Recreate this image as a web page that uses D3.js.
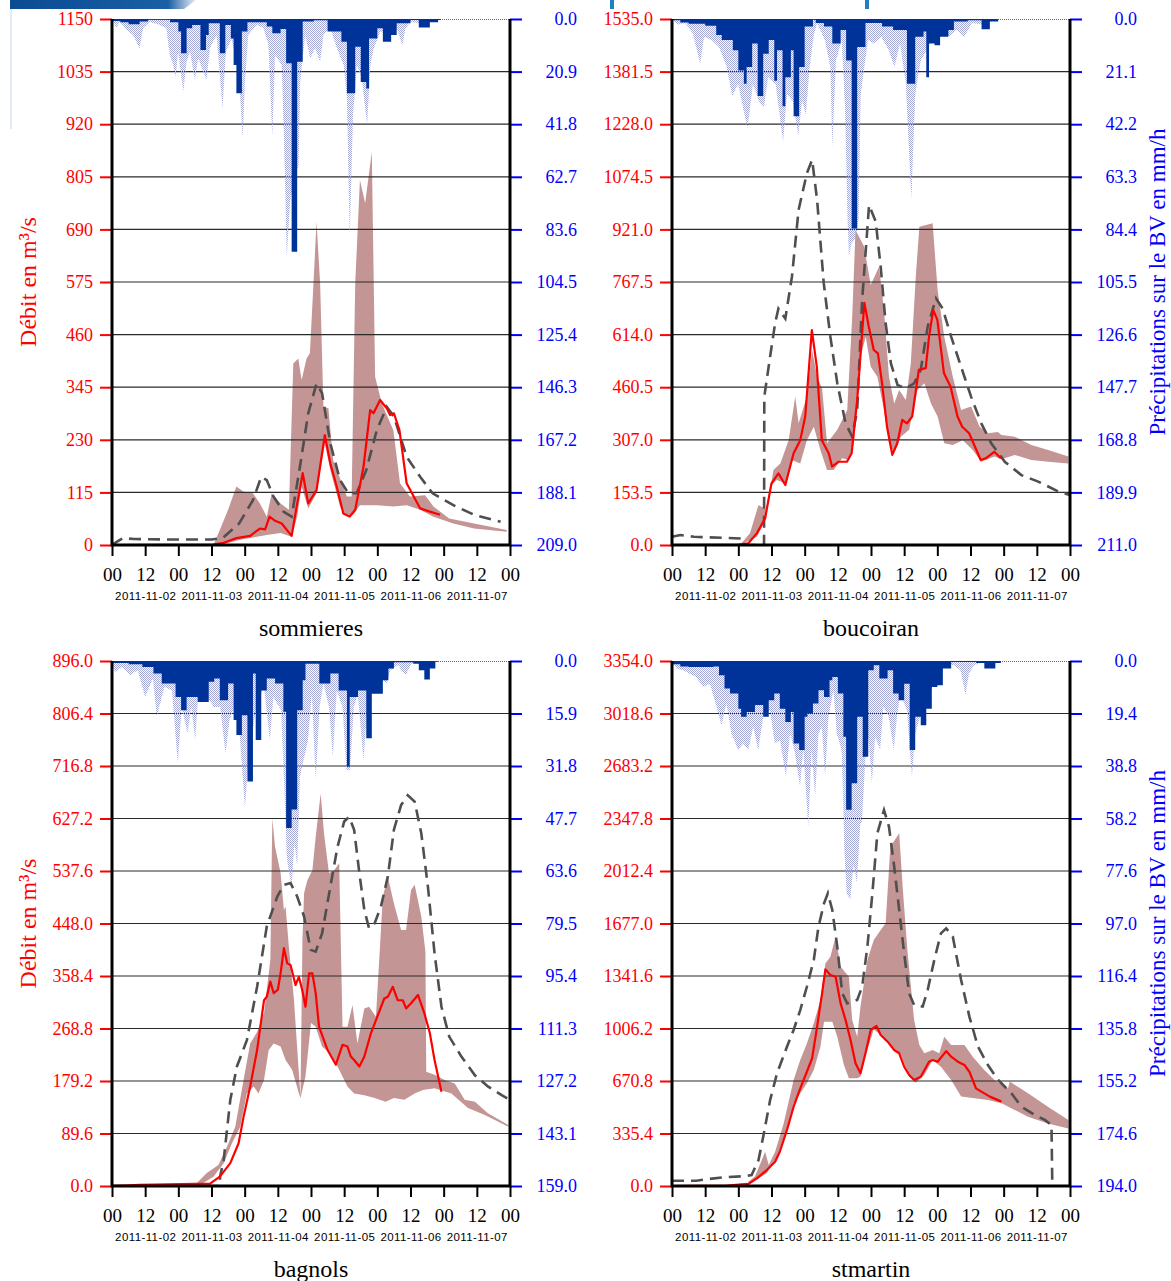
<!DOCTYPE html>
<html>
<head>
<meta charset="utf-8">
<script src="https://cdn.jsdelivr.net/npm/d3@7"></script>
<style>
body { margin: 0; background: #fff; }
svg text { font-family: "Liberation Serif", "Times New Roman", serif; }
svg .dates text { font-family: "Liberation Sans", Arial, sans-serif; }
</style>
</head>
<body>
<script>
// hours since 2011-11-02 00:00 UTC, values in m3/s or mm/h
const stationNames = ["sommieres", "boucoiran", "bagnols", "stmartin"];
const qMax = [1150, 1535, 896, 3354];
const pMax = [209, 211, 159, 194];

// ---- sommieres
const sommieresRain = [[0,0.8],[3,1.3],[6,2.1],[10,1],[13,0.3],[21,1.3],[24,5],[25,13.6],[27,3.7],[29,2.4],[32,12.3],[34,6.4],[35,1.7],[39,13.6],[41,2.4],[43,7.7],[44,18.3],[45,29.5],[47,5],[49,1.3],[56,3],[58,5.7],[61,4],[63,17.6],[65,92.5],[67,17],[69,1],[73,0.5],[78,5],[83,9],[85,29.5],[88,11],[90,25],[92,27.6],[93,7.7],[96,3.7],[98,9],[101,6.4],[103,1.7],[108,0.4],[111,3.4],[115,1.3],[118,0.4],[119,0]];
const sommieresRainMax = [[0,0],[1.6,3.7],[2.8,1.1],[5.2,4.4],[7.6,6.4],[10,11.7],[11.2,3.7],[13.7,1.1],[17.3,2.4],[19.7,3.7],[20.9,14.3],[22.1,18.3],[23.1,22.9],[23.9,13],[25.8,28.9],[27,17],[28.2,13],[30,24.2],[31.2,15.6],[33,20.9],[34.2,24.2],[35.4,11.7],[37.8,6.4],[40,35.5],[41.2,13],[43.3,7.7],[45.1,18.3],[46.3,29.5],[47.3,47.4],[48.1,24.9],[49.3,6.4],[52.4,2.4],[54.8,3.7],[56.6,10.3],[58,46.8],[59,14.3],[61.4,18.3],[62.6,62],[63.2,95],[64.5,71.3],[67.5,58],[68.1,24.9],[69.9,6.4],[71.7,15.6],[73.5,11.7],[75.3,17],[76.5,6.4],[79,3.7],[81.4,11.7],[83.8,18.3],[85,31.5],[86,86.5],[87.2,38.2],[88.6,18.3],[90.4,23.6],[92.3,42.1],[93.5,18.3],[94.7,11.7],[97.1,5],[100.7,6.4],[103.1,3.7],[105,10.3],[106.2,3.7],[108,1.1],[111.6,1.7],[116.4,0.8],[118.9,0]];
const sommieresHigh = [[36.7,0],[39,33],[42,77],[45,128],[47.5,117],[51,113],[53.5,91],[56,62],[57.8,113],[61,91],[64,77],[65.6,397],[67.4,408],[68.6,361],[70.4,408],[71.6,419],[72.9,572],[74,707],[75.3,572],[76.5,302],[78.3,299],[80,186],[85,106],[86.7,106],[88,572],[89.7,798],[91.6,747],[94,860],[95.2,368],[97.6,310],[101.8,251],[104.2,135],[107.8,106],[113.3,109],[116.3,84],[122,58],[131,47],[142.8,33]];
const sommieresLow = [[36.7,0],[41.5,4],[46,11],[52.4,18],[56,22],[61,26],[65,18],[67,62],[68.6,128],[71,80],[74,113],[77,222],[79,164],[82.5,84],[85,62],[87.3,66],[89.7,87],[95.8,87],[101.8,84],[106.6,87],[111.5,77],[116.3,62],[123.5,47],[131,36],[142.8,29]];
const sommieresObs = [[0,0],[36.7,1],[40,4],[45,15],[50,20],[53.5,36],[55.4,34],[57,62],[59,53],[61.4,47],[65,20],[66.8,84],[69,157],[71,91],[74,120],[77,240],[79,178],[81.3,128],[83.7,69],[86,62],[88,77],[91,171],[93.4,295],[94.6,288],[97,317],[99.4,299],[100.6,284],[102,288],[104,251],[106.6,135],[111.5,80],[115,73],[118.7,66]];
const sommieresSim = [[0,0],[2,8],[4,15],[8,13],[20,12],[36,12],[40,15],[46,47],[51,98],[54,149],[56,142],[58.4,106],[62,73],[65,62],[68,171],[71,288],[74,353],[76,332],[79,222],[82.5,142],[85.5,113],[88.5,113],[92,164],[95.8,251],[99.4,302],[102,281],[106.6,193],[111.5,149],[116,113],[123.5,87],[131,66],[140.6,51]];

// ---- boucoiran
const boucoiranRain = [[0,0.5],[3,1.4],[6,1.9],[12,2.7],[16,6.4],[18,8.4],[22,12.5],[24,20.7],[26,26],[27,19.3],[29,9.8],[31,30.9],[33,13.9],[35,8.4],[37,24.8],[38,12.5],[40,35],[41,23.4],[43,12.5],[44,39],[46,19.3],[48,3],[51,0.3],[52,1.6],[55,3],[58,9.8],[61,4.4],[63,16.6],[65,84],[67,11.2],[70,1.6],[76,3],[80,4.4],[85,26],[88,7.1],[91,5],[92,23.4],[93,9.8],[95,10.5],[97,7.1],[100,4.4],[102,1],[107,0.5],[112,4.1],[115,1],[118,0]];
const boucoiranRainMax = [[0,0],[2,2.3],[4.8,1.6],[7.5,5.7],[10.2,18],[11.6,7.1],[14.3,8.4],[17,11.2],[19.8,19.3],[21.8,30.9],[23.9,26.1],[27.3,43.8],[29.3,26.1],[31.4,32.9],[33.2,35.6],[34.8,23.4],[37.5,26.1],[40.2,49.2],[41.6,30.2],[43.7,32.9],[45.7,46.5],[47.1,32.9],[48.4,38.4],[49.8,19.3],[51.2,7.1],[52.5,1.6],[55.3,8.4],[57.3,19.3],[58,51.3],[59.3,16.6],[61.4,8.4],[62.6,35],[63.5,80],[64,95],[65,90],[66.5,88],[67.5,80],[68.3,30],[70.9,8.4],[73,9.8],[75.7,7.1],[78.4,12.5],[80.5,19.3],[82.5,9.8],[84.6,26.1],[86.6,72.4],[88,30.2],[90,16.6],[92.1,12.5],[94.8,5.7],[97.5,3],[100.3,7.1],[103,4.4],[105.7,7.1],[108.5,1.6],[112.6,2.3],[116.6,0.5],[118,0]];
const boucoiranHigh = [[24.6,0],[28.2,34],[31.3,117],[34.3,102],[36.7,219],[39.2,238],[42.2,306],[44.6,433],[45.8,355],[48.8,433],[50.7,569],[52.5,491],[54.3,457],[56.1,297],[59.8,336],[63.4,394],[65.2,666],[66.4,919],[69.5,871],[71.9,759],[74.9,812],[76.7,686],[78.5,491],[80.4,413],[82.2,452],[84.6,423],[86.4,530],[88.2,783],[89.5,929],[94.3,939],[96.1,744],[98.5,608],[101.6,491],[104.6,394],[108.2,404],[111.3,345],[114.3,326],[117.9,330],[119.2,321],[124,316],[130,292],[136.1,277],[143.4,258]];
const boucoiranLow = [[24.6,0],[30.7,24],[33.1,63],[35.5,170],[37.9,190],[41,180],[43.4,248],[46.4,238],[48.8,306],[51.3,345],[53.7,277],[56.1,219],[58.5,219],[61.6,253],[64,248],[65.8,297],[67.6,530],[70.1,608],[71.9,520],[74.3,491],[76.7,394],[78.5,297],[80.4,268],[82.8,316],[85.8,336],[88.8,452],[91.3,472],[93.7,413],[96.1,375],[98.5,297],[101.6,292],[105.2,306],[108.8,277],[111.9,243],[116.7,258],[119.2,250],[124,263],[130,248],[136.1,243],[143.4,238]];
const boucoiranObs = [[0,0],[24,1],[27.6,5],[30.7,34],[33.7,78],[36,180],[38.5,209],[41,175],[44,268],[46.4,306],[48.2,375],[50.6,627],[52.4,520],[54.2,306],[56.7,268],[57.9,229],[60.3,243],[63.3,243],[65,268],[67,423],[69.6,707],[71.2,637],[73,569],[74.5,559],[76,472],[77.8,345],[79.7,263],[81.5,297],[83.3,365],[85,355],[86.9,375],[89.3,511],[91.8,516],[93,608],[94.5,686],[96,657],[98.4,501],[100.8,462],[103.3,375],[105,345],[107.5,326],[111.7,248],[113.5,253],[116.6,272],[119,253]];
const boucoiranSim = [[0,24],[3,29],[8,24],[25,19],[26,0],[33.3,0],[33.4,433],[35.5,550],[37.3,647],[38.5,690],[41,661],[43.4,783],[45.8,978],[48.8,1085],[50.7,1124],[52.5,1007],[54.9,764],[57.3,608],[59.8,472],[62.8,355],[65.2,316],[67,394],[68.8,715],[71.3,992],[73.7,944],[75.5,812],[77.3,647],[79.2,530],[81.6,467],[84.6,457],[87.6,472],[90,511],[92.5,637],[95.5,720],[97.9,690],[101,608],[104.6,520],[108.2,433],[111.9,355],[115.5,297],[120.4,243],[126.4,204],[132.5,185],[139.8,156],[144,146]];

// ---- bagnols
const bagnolsRain = [[0,0.6],[6,1],[11,1.8],[15,3.8],[18,6.8],[23,10.9],[25,14.9],[27,10.9],[31,12.4],[35,6.3],[37,5.3],[39,11.9],[42,6.8],[44,17.9],[45,22.4],[47,16.4],[49,36.5],[51,3.8],[52,23.9],[54,8.9],[56,5.3],[59,6.8],[62,15.4],[63,50.6],[65,45],[67,14.9],[69,5.8],[70,0.8],[75,6.8],[79,3.8],[82,8.9],[85,32],[86,10.9],[89,8.9],[92,23.4],[94,9.9],[98,5.8],[100,2.3],[102,0.4],[109,0.8],[111,2.8],[113,5.6],[115,2.3],[117,0.2],[118,0]];
const bagnolsRainMax = [[0,0],[1,3.3],[3.7,1.8],[6.5,4.3],[9.3,2.8],[12,10.9],[14.8,5.3],[16.2,16.7],[19,7.8],[21.7,8.9],[23.8,31],[25.2,13.9],[27.3,21.9],[28.7,13.9],[30.1,23.9],[31.4,7.8],[34.2,10.9],[37,13.9],[39.1,13.9],[41.1,28],[42.5,17.9],[45.3,11.9],[48.1,44.6],[49.4,29],[52.2,13.9],[55,7.8],[57.1,23.9],[58.4,10.9],[61.2,14.9],[62.6,44],[63.2,59],[64,64],[65,68],[66,55],[67,62],[68,35],[70.9,23.9],[72.3,9.9],[73.7,36],[75.1,13.9],[76.5,6.8],[78.5,13.9],[79.9,29],[81.3,8.9],[83.4,13.9],[84.8,33],[86.1,33],[87.5,13.9],[88.9,9.9],[91,30],[92.4,13.9],[94.5,6.8],[96.5,4.8],[99.3,6.8],[100.7,2.8],[103.5,1.3],[106.2,4.3],[108.3,0.8],[111.8,0.2],[113,0]];
const bagnolsHigh = [[19.8,0],[30.7,5],[34.3,22],[38.5,36],[41.6,67],[44.6,101],[47.6,181],[50,243],[52.5,263],[55,295],[57.3,386],[58,627],[59,579],[61,534],[62.2,471],[62.8,477],[64,408],[65.8,320],[67.5,200],[68.2,152],[68.9,420],[69.5,500],[70.7,522],[72.5,539],[73.7,596],[75.5,670],[76.7,602],[78.5,534],[80.4,539],[82.2,551],[83.4,272],[85.2,272],[87,309],[88.8,243],[91.3,303],[93,306],[95.5,289],[98,494],[99.8,528],[102,482],[104.6,437],[106.4,437],[108.2,505],[109.5,514],[111.9,460],[113.4,400],[113.7,195],[116.7,190],[120.4,181],[124,175],[127.6,147],[131.3,144],[136,124],[143.4,104]];
const bagnolsLow = [[19.8,0],[32,2],[36.7,16],[40.4,39],[43.4,73],[46.4,101],[48.8,158],[51.3,170],[53,158],[55,181],[56.7,232],[58.5,243],[61,238],[62.8,215],[65.2,198],[67.5,160],[68.2,150],[70,187],[72,278],[73.7,272],[76,238],[79,226],[81.6,204],[85.2,170],[87.6,158],[91.3,155],[95,150],[99,144],[102,150],[105.8,147],[109.5,158],[112.5,164],[116.7,167],[122.8,158],[128.8,133],[134.9,121],[143.4,101]];
const bagnolsObs = [[0,0],[10,2],[35.5,4],[39,16],[42.8,39],[45.8,73],[47.6,118],[50,170],[52.5,232],[55,317],[56,323],[57.3,349],[58.5,329],[60,335],[61,363],[62.2,406],[63.4,380],[64.6,377],[66.4,343],[67.6,357],[68.8,335],[70,306],[71.3,363],[72.5,363],[73.7,329],[74.9,272],[78,232],[81,207],[83.4,241],[85.2,238],[86.4,221],[87.6,215],[89.5,204],[91.3,221],[93.7,261],[96,289],[98.5,320],[99.8,323],[101.6,340],[103.4,317],[105.2,317],[106.4,303],[108.2,312],[110.7,326],[113,295],[115,261],[116.7,215],[119.2,161]];
const bagnolsSim = [[0,0],[39,0],[39.1,16],[40.4,44],[42.8,147],[45.2,204],[48.8,249],[52.5,340],[56,443],[59.8,494],[62.2,514],[64.6,517],[67,494],[69.5,460],[71.9,403],[73.7,400],[76,431],[79,511],[81.6,579],[84,622],[85.8,630],[87.6,608],[89.5,534],[91.3,471],[93,440],[95,448],[97.3,477],[99.8,528],[102,608],[104.6,650],[107,667],[109.5,656],[111.9,602],[114.3,511],[116.7,397],[119.2,306],[122,255],[126.4,221],[131.3,189],[136,170],[141,155],[144,147]];

// ---- stmartin
const stmartinRain = [[0,1.2],[3,2],[6,2.2],[15,2],[17,5.3],[19,10.2],[21,12],[24,17.6],[25,20.6],[27,18.8],[30,16.3],[33,20.6],[35,14.5],[37,12],[39,17.6],[41,22.5],[43,18.8],[44,30.5],[46,32.9],[48,20.6],[49,19.4],[51,15.7],[53,10.8],[55,13.3],[57,7.1],[58,5.9],[60,12],[62,28],[63,55],[65,45.2],[67,20.6],[69,35.4],[71,3.4],[73,1.6],[75,6.5],[78,3.4],[80,12],[82,14.5],[84,8.4],[86,32.9],[88,20.6],[90,23.7],[92,17.6],[94,9.6],[96,9],[98,2.8],[101,0.4],[110,0.7],[113,2.8],[117,0.7],[119,0]];
const stmartinRainMax = [[0,0],[1.6,2.8],[4,3.4],[6.4,4.7],[8.8,5.9],[11.2,9.6],[13.7,8.4],[16.1,16.9],[17.9,23.7],[19.7,15.7],[21.5,26.8],[23.9,32.9],[25.8,30.5],[27.6,32.9],[29.4,24.3],[31.2,32.9],[33,20.6],[35.4,18.2],[37.2,30.5],[39.1,29.2],[41.2,42.7],[42.7,26.8],[44.5,34.1],[46.3,46.4],[47.5,32.9],[49.3,61.2],[50.5,32.9],[51.8,50.1],[53,26.8],[54.2,24.3],[55.4,42.7],[56.6,20.6],[58.4,10.8],[59.6,26.8],[61.4,32.9],[62.4,70],[63.2,86],[64.5,88],[65.7,75],[66.9,82],[68.1,60],[68.7,59.9],[69.9,36.6],[71.1,28],[72.3,45.2],[73.5,28],[75.3,32.9],[76.5,16.9],[78.4,20.6],[80.2,32.9],[81.4,20.6],[82.6,12],[85,18.2],[86.8,42.7],[88,26.8],[89.8,20.6],[92.3,15.7],[94.7,8.4],[97.1,3.4],[99.5,1],[101.9,1.6],[104.4,3.4],[106.2,12.6],[107.4,4.7],[109.2,1.6],[111.6,0.7],[116.4,0.2],[117.7,0]];
const stmartinHigh = [[19.8,0],[27,17],[30,60],[32.5,166],[33.7,219],[35,134],[37.3,219],[40.4,400],[44,677],[46.4,805],[48.8,911],[51.3,1039],[53.7,1188],[55.5,1422],[57.3,1465],[59.2,1593],[61,1401],[64,1337],[65.2,1060],[67,954],[68.2,1146],[70.7,1444],[73,1572],[75.5,1635],[77.3,1678],[79,2168],[82.2,2253],[83.5,1900],[85.2,1500],[87.6,1060],[89.5,900],[91.3,848],[94.3,869],[96.7,848],[98.5,954],[101,901],[105.8,901],[108.8,826],[113,741],[116.7,677],[121.6,624],[122.2,667],[128.8,592],[136,507],[143.4,422]];
const stmartinLow = [[19.8,0],[29.5,28],[34.3,81],[38,187],[41,336],[44,528],[46.4,592],[48.8,656],[51.3,741],[53.7,890],[55,1050],[58,1050],[59.8,954],[62.2,773],[64,688],[67,688],[68.2,700],[70,830],[73,1000],[76,960],[79,900],[82.8,840],[85.8,700],[88.2,660],[91.3,709],[94.3,805],[97.3,762],[101,677],[104.6,571],[109.5,560],[114.3,549],[119.2,528],[124,486],[128.8,443],[136,400],[143.4,368]];
const stmartinObs = [[0,0],[20,2],[27.6,13],[30.7,49],[34.3,102],[37.3,155],[39,219],[41.6,358],[44,507],[46.4,624],[48.8,730],[50.7,816],[52.5,1018],[54.3,1231],[55.5,1384],[57.3,1348],[59.2,1337],[61,1167],[62.8,1060],[64.6,933],[66.4,784],[68.2,720],[70,848],[71.9,997],[74,1022],[75.5,965],[78,922],[80.4,869],[82.2,848],[84,762],[85.8,709],[87.6,677],[90,698],[93,794],[94.3,805],[96.1,794],[99.2,862],[101,826],[103.4,794],[105.8,773],[107.6,730],[110,624],[111.9,603],[115,571],[119.2,539]];
const stmartinSim = [[0,34],[8.8,34],[12.5,43],[18.5,55],[27,64],[28.8,70],[31.3,166],[33,315],[35.5,549],[38,720],[41.6,890],[44,997],[46.4,1124],[48.8,1273],[51.3,1444],[53,1657],[55,1806],[56.4,1870],[58,1763],[59.8,1529],[61.6,1231],[63.4,1167],[67,1188],[68.8,1273],[70.7,1529],[72.5,1870],[74.3,2253],[76.7,2402],[78.5,2296],[80.4,2040],[82.2,1763],[84,1486],[85.8,1231],[87.6,1156],[90.7,1146],[92.5,1252],[94.9,1444],[97.3,1614],[99.2,1646],[101.6,1593],[104.6,1316],[107.6,1082],[110.7,890],[114.3,773],[118,677],[122.8,592],[126.4,507],[131.3,454],[134.9,422],[137.3,390],[137.6,0]];

const series = [
  {rain: sommieresRain, rainMax: sommieresRainMax, hi: sommieresHigh, lo: sommieresLow, obs: sommieresObs, sim: sommieresSim, fmt: "d"},
  {rain: boucoiranRain, rainMax: boucoiranRainMax, hi: boucoiranHigh, lo: boucoiranLow, obs: boucoiranObs, sim: boucoiranSim, fmt: ".1f"},
  {rain: bagnolsRain, rainMax: bagnolsRainMax, hi: bagnolsHigh, lo: bagnolsLow, obs: bagnolsObs, sim: bagnolsSim, fmt: ".1f"},
  {rain: stmartinRain, rainMax: stmartinRainMax, hi: stmartinHigh, lo: stmartinLow, obs: stmartinObs, sim: stmartinSim, fmt: ".1f"}
];

const t0 = Date.UTC(2011, 10, 2);
const T = h => new Date(t0 + h * 3600e3);
const colX = [[112, 510], [672, 1070]];
const rowY = [[19, 545], [661, 1186]];

const svg = d3.select("body").append("svg").attr("width", 1171).attr("height", 1281);

// dotted fill for the light precipitation field
const defs = svg.append("defs");
const pat = defs.append("pattern").attr("id", "hatch").attr("width", 2).attr("height", 2)
  .attr("patternUnits", "userSpaceOnUse");
pat.append("rect").attr("x", 0).attr("y", 0).attr("width", 1).attr("height", 1).attr("fill", "#a2a7d6");
pat.append("rect").attr("x", 1).attr("y", 1).attr("width", 1).attr("height", 1).attr("fill", "#a2a7d6");
const grad = defs.append("linearGradient").attr("id", "banner");
grad.append("stop").attr("offset", "0%").attr("stop-color", "#0a4b92");
grad.append("stop").attr("offset", "85%").attr("stop-color", "#1b5fa6");
grad.append("stop").attr("offset", "100%").attr("stop-color", "#e8eef6");

// bits of the slide that got into the screenshot
svg.append("path").attr("d", "M10,0H196L184,9H10Z").attr("fill", "url(#banner)");
svg.append("rect").attr("x", 10).attr("y", 9).attr("width", 2).attr("height", 120).attr("fill", "#e3ecf5");
svg.append("rect").attr("x", 610).attr("y", 0).attr("width", 4).attr("height", 9).attr("fill", "#1f7fc3");
svg.append("rect").attr("x", 865).attr("y", 0).attr("width", 4).attr("height", 9).attr("fill", "#1f7fc3");

series.forEach((s, i) => {
  const col = i % 2, row = Math.floor(i / 2);
  const [x0, x1] = colX[col], [y0, y1] = rowY[row];
  const x = d3.scaleUtc().domain([T(0), T(144)]).range([x0, x1]);
  const yQ = d3.scaleLinear().domain([0, qMax[i]]).range([y1, y0]);
  const yP = d3.scaleLinear().domain([0, pMax[i]]).range([y0, y1]);
  const qTicks = d3.range(11).map(k => qMax[i] * k / 10);
  const pTicks = d3.range(11).map(k => pMax[i] * k / 10);

  const g = svg.append("g");
  defs.append("clipPath").attr("id", "clip" + i).append("rect")
    .attr("x", x0).attr("y", y0).attr("width", x1 - x0).attr("height", y1 - y0);
  const plot = g.append("g").attr("clip-path", `url(#clip${i})`);

  // envelope
  const band = s.hi.concat(s.lo.slice().reverse());
  plot.append("path")
    .attr("d", d3.line().x(d => x(T(d[0]))).y(d => yQ(d[1]))(band) + "Z")
    .attr("fill", "#c49595");

  // grid
  plot.selectAll(".grid").data(qTicks.slice(1, 10)).enter().append("line")
    .attr("x1", x0).attr("x2", x1).attr("y1", d => yQ(d)).attr("y2", d => yQ(d))
    .attr("stroke", "#2a2a2a").attr("stroke-width", 1.2);
  plot.append("line").attr("x1", x0).attr("x2", x1).attr("y1", y0 + 0.5).attr("y2", y0 + 0.5)
    .attr("stroke", "#666").attr("stroke-dasharray", "1,1");

  // precipitation: dotted field first, observed bars over it
  plot.append("path")
    .attr("d", d3.area().x(d => x(T(d[0]))).y0(yP(0)).y1(d => yP(d[1]))(s.rainMax))
    .attr("fill", "url(#hatch)");
  plot.append("path")
    .attr("d", d3.area().curve(d3.curveStepAfter).x(d => x(T(d[0]))).y0(yP(0)).y1(d => yP(d[1]))(s.rain))
    .attr("fill", "#003399");

  // discharge lines
  const line = d3.line().x(d => x(T(d[0]))).y(d => yQ(d[1]));
  plot.append("path").attr("d", line(s.sim)).attr("fill", "none")
    .attr("stroke", "#4f4f4f").attr("stroke-width", 2.6).attr("stroke-dasharray", "12,7");
  plot.append("path").attr("d", line(s.obs)).attr("fill", "none")
    .attr("stroke", "#ff0000").attr("stroke-width", 2.2).attr("stroke-linejoin", "round");

  // left axis
  const la = g.append("g").attr("transform", `translate(${x0},0)`)
    .call(d3.axisLeft(yQ).tickValues(qTicks).tickFormat(d3.format(s.fmt)).tickSize(12).tickPadding(7));
  la.select(".domain").remove();
  la.selectAll("line").attr("stroke", "#ff0000").attr("stroke-width", 2);
  la.selectAll("text").attr("fill", "#ff0000").attr("font-size", 18);

  // right axis
  const ra = g.append("g").attr("transform", `translate(${x1},0)`)
    .call(d3.axisRight(yP).tickValues(pTicks).tickFormat(d3.format(".1f")).tickSize(12));
  ra.select(".domain").remove();
  ra.selectAll("line").attr("stroke", "#0000ff").attr("stroke-width", 2);
  ra.selectAll("text").attr("fill", "#0000ff").attr("font-size", 18)
    .attr("text-anchor", "end").attr("x", 67);

  // time axis
  const ba = g.append("g").attr("transform", `translate(0,${y1})`)
    .call(d3.axisBottom(x).ticks(d3.utcHour.every(12)).tickFormat(d3.utcFormat("%H")).tickSize(11).tickPadding(12));
  ba.select(".domain").remove();
  ba.selectAll("line").attr("stroke", "#000").attr("stroke-width", 2);
  ba.selectAll("text").attr("fill", "#000").attr("font-size", 19);

  const da = g.append("g").attr("class", "dates").attr("transform", `translate(0,${y1 + 47})`)
    .call(d3.axisBottom(x).tickValues(d3.range(6).map(k => T(12 + 24 * k)))
      .tickFormat(d3.utcFormat("%Y-%m-%d")).tickSize(0).tickPadding(0));
  da.select(".domain").remove();
  da.selectAll("text").attr("fill", "#000").attr("font-size", 11.5).attr("letter-spacing", 0.4);

  // frame
  g.append("path").attr("d", `M${x0},${y0}V${y1}H${x1}V${y0}`)
    .attr("fill", "none").attr("stroke", "#000").attr("stroke-width", 3);

  g.append("text").attr("x", (x0 + x1) / 2).attr("y", y1 + 91).attr("text-anchor", "middle")
    .attr("font-size", 24).text(stationNames[i]);

  if (col === 0) {
    g.append("text").attr("transform", `translate(36,${(y0 + y1) / 2}) rotate(-90)`)
      .attr("text-anchor", "middle").attr("fill", "#ff0000").attr("font-size", 24)
      .text("Débit en m³/s");
  } else {
    g.append("text").attr("transform", `translate(1165,${(y0 + y1) / 2}) rotate(-90)`)
      .attr("text-anchor", "middle").attr("fill", "#0000ff").attr("font-size", 23)
      .text("Précipitations sur le BV en mm/h");
  }
});
</script>
</body>
</html>
